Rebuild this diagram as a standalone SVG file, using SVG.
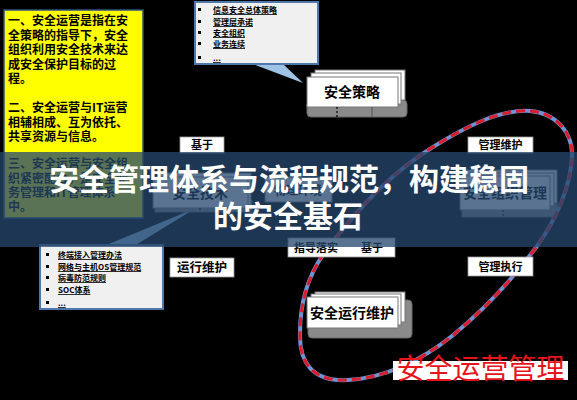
<svg xmlns="http://www.w3.org/2000/svg" width="577" height="400" viewBox="0 0 577 400">
<style>
.cjk{font-family:"Noto Sans CJK SC","Noto Sans",sans-serif;}
.yt{font-size:12px;font-weight:700;fill:#000;}
.bl{font-size:8px;font-weight:700;fill:#000;text-decoration:underline;}
.lbl{fill:#fff;stroke:#9a9a9a;stroke-width:0.8;}
.lt{font-size:11px;font-weight:700;fill:#000;text-anchor:middle;}
.card{fill:#fff;stroke:#777;stroke-width:1;}
.base{fill:#8a8a8a;stroke:#666;stroke-width:1;}
.nt{font-size:14px;font-weight:600;fill:#000;text-anchor:middle;}
.call{fill:#f0f0f0;stroke:#4f79ad;stroke-width:2;}
.wedge{fill:#9ec3e6;}
</style>
<rect width="577" height="400" fill="#000"/>

<!-- yellow description box -->
<g id="desc">
<rect x="4" y="10" width="139" height="208" fill="#ffff00" stroke="#2d4f82" stroke-width="1.5"/>
<g class="cjk yt">
<text x="8" y="25">一、</text><text x="32" y="25">安全运营是指在安</text>
<text x="8" y="39.5">全策略的指导下，安全</text>
<text x="8" y="54">组织利用安全技术来达</text>
<text x="8" y="68.5">成安全保护目标的过</text>
<text x="8" y="83">程。</text>
<text x="8" y="112">二、</text><text x="32" y="112">安全运营与IT运营</text>
<text x="8" y="126.5">相辅相成、互为依托、</text>
<text x="8" y="141">共享资源与信息。</text>
<text x="8" y="168">三、</text><text x="32" y="168">安全运营与安全组</text>
<text x="8" y="182.5">织紧密配合，是安全业</text>
<text x="8" y="197">务管理和IT管理体系</text>
<text x="8" y="211">中。</text>
</g>
</g>

<!-- top callout -->
<g id="callout-policy">
<polygon class="wedge" points="250,63 282,63 303,83"/>
<rect class="call" x="195" y="2" width="123" height="62"/>
<g fill="#000"><rect x="198" y="8" width="3" height="3"/><rect x="198" y="20" width="3" height="3"/><rect x="198" y="31" width="3" height="3"/><rect x="198" y="42" width="3" height="3"/><rect x="198" y="56" width="3" height="3"/></g>
<g class="cjk bl">
<text x="213" y="13">信息安全总体策略</text>
<text x="213" y="25">管理层承诺</text>
<text x="213" y="36">安全组织</text>
<text x="213" y="47">业务连续</text>
<text x="213" y="61">...</text>
</g>
</g>

<!-- bottom-left callout -->
<g id="callout-ops">
<polygon class="wedge" points="104,246 134,246 196,208"/>
<rect class="call" x="40" y="245" width="123" height="64"/>
<g fill="#000"><rect x="46" y="253" width="3" height="3"/><rect x="46" y="265" width="3" height="3"/><rect x="46" y="276" width="3" height="3"/><rect x="46" y="288" width="3" height="3"/><rect x="46" y="301" width="3" height="3"/></g>
<g class="cjk bl">
<text x="58" y="258">终端接入管理办法</text>
<text x="58" y="270">网络与主机OS管理规范</text>
<text x="58" y="281">病毒防范规则</text>
<text x="58" y="293">SOC体系</text>
<text x="58" y="306">...</text>
</g>
</g>

<!-- node: 安全策略 -->
<g id="node-policy">
<path class="base" d="M309,100 H403 Q407,100 407,104 V113 Q407,117 403,117 H311 Q307,117 307,113 V104 Z"/>
<rect class="card" x="315" y="70" width="90" height="30"/>
<rect class="card" x="311" y="73" width="90" height="31"/>
<rect class="card" x="307" y="77" width="91" height="30"/>
<text class="cjk nt" x="352" y="97">安全策略</text>
<line x1="337" y1="107" x2="337" y2="117" stroke="#000" stroke-width="1.2" stroke-dasharray="2 2"/>
<line x1="372" y1="107" x2="372" y2="117" stroke="#555" stroke-width="1"/>
</g>

<!-- node: 安全技术 -->
<g id="node-tech">
<path class="base" d="M155,200 H252 V212 H155 Z"/>
<rect class="card" x="159" y="173" width="92" height="32"/>
<rect class="card" x="153" y="177" width="95" height="31"/>
<text class="cjk nt" x="200" y="198">安全技术</text>
<line x1="200" y1="208" x2="200" y2="222" stroke="#000" stroke-width="1.2" stroke-dasharray="2 2"/>
</g>

<!-- node: 物理环境 -->
<g id="node-env">
<rect class="card" x="265" y="177" width="67" height="25"/>
<text class="cjk nt" x="298" y="195" style="font-size:12px">物理环境</text>
</g>

<!-- node: 安全组织管理 -->
<g id="node-org">
<path class="base" d="M462,200 H557 V217 H462 Z"/>
<rect class="card" x="466" y="170" width="91" height="33"/>
<rect class="card" x="463" y="173" width="91" height="33"/>
<rect class="card" x="460" y="176" width="90" height="34"/>
<text class="cjk nt" x="505" y="198">安全组织管理</text>
<line x1="503" y1="210" x2="503" y2="218" stroke="#000" stroke-width="1.2" stroke-dasharray="2 2"/>
</g>

<!-- node: 安全运行维护 -->
<g id="node-ops">
<path class="base" d="M310,300 H408 Q412,300 412,304 V334 Q412,338 408,338 H312 Q308,338 308,334 V304 Z"/>
<rect class="card" x="315" y="292" width="90" height="30"/>
<rect class="card" x="311" y="294" width="90" height="31"/>
<rect class="card" x="307" y="297" width="91" height="31"/>
<text class="cjk nt" x="352" y="318">安全运行维护</text>
</g>

<!-- connectors -->
<g id="connectors">
<path d="M530,111 C556,113 573,133 572,156 C571,186 556,220 537,246 C518,272 490,305 452,336 C422,360 385,378 348,380 C312,382 299,362 300,333 C300,302 309,272 328,248 C355,212 392,172 433,147 C465,127 500,109 530,111 Z" fill="none" stroke="#6f93d2" stroke-width="4"/>
<path d="M530,111 C556,113 573,133 572,156 C571,186 556,220 537,246 C518,272 490,305 452,336 C422,360 385,378 348,380 C312,382 299,362 300,333 C300,302 309,272 328,248 C355,212 392,172 433,147 C465,127 500,109 530,111 Z" fill="none" stroke="#dc1c2c" stroke-width="3" stroke-dasharray="9 5"/>
</g>

<!-- labels -->
<g id="label-base1"><rect class="lbl" x="180" y="137" width="44" height="16"/><text class="cjk lt" x="202" y="149">基于</text></g>
<g id="label-mgmt-maint"><rect class="lbl" x="468" y="137" width="65" height="16"/><text class="cjk lt" x="500.5" y="149">管理维护</text></g>
<g id="label-guide"><rect class="lbl" x="288" y="238" width="107" height="19"/><text class="cjk lt" x="316" y="252">指导落实</text><text class="cjk lt" x="372" y="252">基于</text></g>
<g id="label-run"><rect class="lbl" x="170" y="258" width="64" height="19"/><text class="cjk lt" x="202" y="272" style="font-size:12.5px">运行维护</text></g>
<g id="label-exec"><rect class="lbl" x="468" y="257" width="65" height="19"/><text class="cjk lt" x="500.5" y="271">管理执行</text></g>
<g id="label-secops"><rect x="393" y="361" width="175" height="19" fill="#fff"/><text class="cjk" x="480.5" y="379" text-anchor="middle" font-size="28" fill="#e8141c">安全运营管理</text></g>

<!-- title banner -->
<rect x="0" y="152" width="577" height="95" fill="#25476f" opacity="0.76"/>
<g class="cjk" font-size="30" font-weight="700" fill="#fff" text-anchor="middle">
<text x="289" y="190">安全管理体系与流程规范，构建稳固</text>
<text x="288" y="227">的安全基石</text>
</g>
</svg>
